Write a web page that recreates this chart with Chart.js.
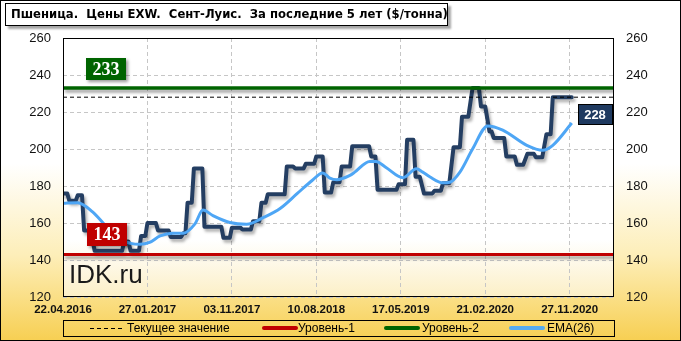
<!DOCTYPE html>
<html><head><meta charset="utf-8">
<script src="https://cdn.jsdelivr.net/npm/chart.js@4.4.1/dist/chart.umd.min.js"></script>
<style>
html,body{margin:0;padding:0;background:#fff;}
#wrap{position:relative;width:681px;height:341px;overflow:hidden;
 background:linear-gradient(to bottom,#ffffff 0%,#ffffff 48%,#fdeeb8 75%,#f7cf52 100%);}
#c{position:absolute;left:0;top:0;}
#frame{position:absolute;left:0;top:0;width:681px;height:341px;box-sizing:border-box;border:1px solid #000;pointer-events:none;}
#title{position:absolute;left:5px;top:3px;width:443px;height:23px;box-sizing:border-box;border:1px solid #000;background:#fff;
 box-shadow:3px 3px 2px rgba(0,0,0,0.35);font:bold 11.65px 'DejaVu Sans';line-height:21px;padding-left:5px;white-space:pre;color:#000;}
#wm{position:absolute;left:69px;top:261px;font:26px 'Liberation Sans';line-height:26px;color:#1a1a1a;}
#legend{position:absolute;left:63px;top:320px;width:552px;height:17px;box-sizing:border-box;border:1px solid #000;}
.sw{position:absolute;top:5px;width:36px;height:4px;border-radius:2px;}
.dash{top:7px;height:1px;border-radius:0;background:repeating-linear-gradient(to right,#000 0 4px,transparent 4px 7px);}
.lt{position:absolute;top:0px;font:12px 'Liberation Sans';line-height:15px;color:#000;white-space:pre;}
</style></head>
<body>
<div id="wrap">
<canvas id="c" width="681" height="341"></canvas>
<div id="title">Пшеница.  Цены EXW.  Сент-Луис.  За последние 5 лет ($/тонна)</div>
<div id="wm">IDK.ru</div>
<div id="legend">
 <span class="sw dash" style="left:26px;width:34px"></span><span class="lt" style="left:63px">Текущее значение</span>
 <span class="sw" style="left:198px;background:#c00000"></span><span class="lt" style="left:234px">Уровень-1</span>
 <span class="sw" style="left:320px;background:#006400"></span><span class="lt" style="left:358px">Уровень-2</span>
 <span class="sw" style="left:445px;background:#55aaf0"></span><span class="lt" style="left:483px">EMA(26)</span>
</div>
<div id="frame"></div>
</div>
<script>
// ---- data (weeks since 22.04.2016) ----
const X_LABELS = ['22.04.2016','27.01.2017','03.11.2017','10.08.2018','17.05.2019','21.02.2020','27.11.2020'];
const TICK_WEEKS = [0,40,80,120,160,200,240];
const X_MAX = 261;
const Y_TICKS = [120,140,160,180,200,220,240,260];

const PRICE_WEEKS = [0,2,3,6,7,9,10,13,15,28,29,31,32,36,37,39,40,44,45,50,51,56,57,58,59,61,62,66,67,75,76,79,80,84,85,89,90,93,94,96,97,105,106,109,110,114,115,119,120,123,124,127,128,131,132,136,137,145,146,148,149,158,159,162,163,166,167,169,171,175,176,179,180,183,185,188,189,192,194,197,198,200,202,203,204,209,210,214,215,218,220,223,224,227,229,231,232,241];
const PRICE_VALUES = [176,176,172,172,175,175,156,156,145,145,150,150,145,145,153,153,160,160,156,156,152.5,152.5,154.5,154.5,171,171,189.5,189.5,158,158,152,152,157.5,157.5,156.5,156.5,161,161,171,171,175.5,175.5,190.5,190.5,189.5,189.5,192,192,196,196,176.5,176.5,182,182,190.5,190.5,201.5,201.5,196,196,178,178,181,181,205,205,185,185,176,176,177.5,177.5,181.5,181.5,201,201,217.5,217.5,233,233,223,223,209.5,209.5,206,206,196,196,191.5,191.5,197.5,197.5,195.5,195.5,208,208,228,228];

const EMA_WEEKS = [0,7,14,19,23,27,32,36.5,41,46,52,57,62.5,66.3,71,79,87,95,103,111,118,123,126.4,129.7,135.9,138.2,145.3,148.2,153,161,167.4,170.4,173.7,180,183.2,188,194,201.2,208.3,219.7,227.2,232,241];
const EMA_VALUES = [170.7,171,166,160,155,151,149,148.5,149.5,153,154.5,154.5,159.5,167,164,160.3,159.3,163,168,176,183,187,184.3,183.4,185.7,187.5,193.3,193.3,190,184.5,189.3,187.5,185,181.7,182,187.5,200,212.5,210.2,202,199.3,202,214];

const LEVEL_1 = 143;
const LEVEL_2 = 233;
const CURRENT = 228;

const pts = (xs, ys) => xs.map((x, i) => ({x, y: ys[i]}));
const levelLine = v => [{x: 0, y: v}, {x: X_MAX, y: v}];

const plotBg = {
  id: 'plotBg',
  beforeDraw(chart) {
    const {ctx, chartArea: a} = chart;
    const g = ctx.createLinearGradient(0, a.top, 0, a.bottom);
    g.addColorStop(0, '#ffffff'); g.addColorStop(0.78, '#ffffff'); g.addColorStop(1, '#fcefc6');
    ctx.save(); ctx.fillStyle = g; ctx.fillRect(a.left, a.top, a.right - a.left, a.bottom - a.top); ctx.restore();
  }
};
const shadow = {
  id: 'shadow',
  beforeDatasetDraw(chart, args) {
    const ds = chart.data.datasets[args.index];
    if (ds.shadowColor) {
      const c = chart.ctx; c.save();
      c.shadowColor = ds.shadowColor; c.shadowBlur = 3; c.shadowOffsetX = 2; c.shadowOffsetY = 3;
    }
  },
  afterDatasetDraw(chart, args) {
    const ds = chart.data.datasets[args.index];
    if (ds.shadowColor) chart.ctx.restore();
  }
};
function tag(ctx, cx, cy, w, h, fill, stroke, text, font, sh) {
  ctx.save();
  if (sh) { ctx.shadowColor = 'rgba(0,0,0,0.4)'; ctx.shadowBlur = 3; ctx.shadowOffsetX = 2; ctx.shadowOffsetY = 2; }
  ctx.fillStyle = fill;
  ctx.fillRect(Math.round(cx - w / 2), Math.round(cy - h / 2), w, h);
  ctx.restore();
  ctx.save();
  if (stroke) { ctx.strokeStyle = stroke; ctx.lineWidth = 1; ctx.strokeRect(Math.round(cx - w / 2) + 0.5, Math.round(cy - h / 2) + 0.5, w - 1, h - 1); }
  ctx.fillStyle = '#fff'; ctx.font = font; ctx.textAlign = 'center'; ctx.textBaseline = 'middle';
  ctx.fillText(text, cx, cy + 1);
  ctx.restore();
}
const overlay = {
  id: 'overlay',
  afterDraw(chart) {
    const {ctx, chartArea: a} = chart;
    const y = chart.scales.y;
    ctx.save();
    ctx.strokeStyle = '#000'; ctx.lineWidth = 1;
    ctx.strokeRect(Math.round(a.left) + 0.5, Math.round(a.top) + 0.5, Math.round(a.right - a.left) - 1, Math.round(a.bottom - a.top) - 1);
    ctx.restore();
    tag(ctx, a.left + 43, y.getPixelForValue(LEVEL_2) - 19, 40, 22, '#006400', null, String(LEVEL_2), 'bold 18px "Liberation Serif"', true);
    tag(ctx, a.left + 44, y.getPixelForValue(LEVEL_1) - 20, 40, 23, '#c00000', null, String(LEVEL_1), 'bold 18px "Liberation Serif"', true);
    tag(ctx, a.right - 19, y.getPixelForValue(CURRENT) + 17, 35, 21, '#1f3a60', '#000', String(CURRENT), 'bold 13px "Liberation Sans"', false);
  }
};

const gridCol = '#c6c6c6';
new Chart(document.getElementById('c'), {
  type: 'line',
  data: {
    datasets: [
      {label: 'Уровень-2', data: levelLine(LEVEL_2), borderColor: '#006400', borderWidth: 3.5, shadowColor: 'rgba(0,0,0,0.35)'},
      {label: 'Уровень-1', data: levelLine(LEVEL_1), borderColor: '#c00000', borderWidth: 3, shadowColor: 'rgba(0,0,0,0.35)'},
      {label: 'Текущее значение', data: levelLine(CURRENT), borderColor: '#000', borderWidth: 1, borderDash: [4, 3], borderCapStyle: 'butt'},
      {label: 'EMA(26)', data: pts(EMA_WEEKS, EMA_VALUES), borderColor: '#4ea6f5', borderWidth: 3, cubicInterpolationMode: 'monotone'},
      {label: 'Цена', data: pts(PRICE_WEEKS, PRICE_VALUES), borderColor: '#243e62', borderWidth: 4, shadowColor: 'rgba(0,0,0,0.3)', borderJoinStyle: 'round', borderCapStyle: 'round'}
    ]
  },
  options: {
    responsive: false, animation: false, devicePixelRatio: 1,
    layout: {padding: {top: 38, left: 0, right: 0, bottom: 0}},
    elements: {point: {radius: 0}, line: {tension: 0}},
    plugins: {legend: {display: false}, tooltip: {enabled: false}},
    scales: {
      x: {
        type: 'linear', min: 0, max: X_MAX,
        afterBuildTicks(s) { s.ticks = TICK_WEEKS.map(v => ({value: v})); },
        ticks: {callback: v => { const i = TICK_WEEKS.indexOf(v); return i >= 0 ? X_LABELS[i] : ''; },
          font: {family: 'Liberation Sans', weight: 'bold', size: 11.5}, color: '#111', padding: 6, maxRotation: 0, autoSkip: false},
        grid: {color: gridCol, drawTicks: false}, border: {display: false, dash: [4, 3]},
        afterFit(s) { s.height = 44; }
      },
      y: {
        position: 'left', min: 120, max: 260,
        afterBuildTicks(s) { s.ticks = Y_TICKS.map(v => ({value: v})); },
        ticks: {font: {family: 'Liberation Sans', size: 13}, color: '#111', padding: 12},
        grid: {color: gridCol, drawTicks: false}, border: {display: false, dash: [4, 3]},
        afterFit(s) { s.width = 63; }
      },
      y2: {
        position: 'right', min: 120, max: 260,
        afterBuildTicks(s) { s.ticks = Y_TICKS.map(v => ({value: v})); },
        ticks: {font: {family: 'Liberation Sans', size: 13}, color: '#111', padding: 12},
        grid: {drawOnChartArea: false, drawTicks: false}, border: {display: false},
        afterFit(s) { s.width = 67; }
      }
    }
  },
  plugins: [plotBg, shadow, overlay]
});
</script>
</body></html>
